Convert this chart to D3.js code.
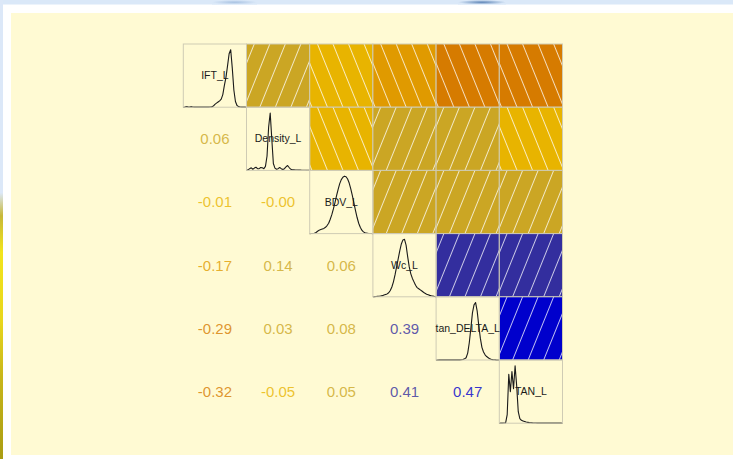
<!DOCTYPE html>
<html>
<head>
<meta charset="utf-8">
<script src="https://cdn.jsdelivr.net/npm/d3@7"></script>
<style>
  html, body { margin: 0; padding: 0; background: #fff; }
  svg { display: block; }
</style>
</head>
<body>
<div id="chart"></div>
<script>
const DEBUG = false;

// variable names, diagonal of the corrgram
const vars = ["IFT_L", "Density_L", "BDV_L", "Wc_L", "tan_DELTA_L", "TAN_L"];

// correlations, one array per row: corr of vars[i] with vars[i+1..]
const corrIFT = [0.06, -0.01, -0.17, -0.29, -0.32];
const corrDensity = [-0.004, 0.14, 0.03, -0.05];
const corrBDV = [0.06, 0.08, 0.05];
const corrWc = [0.39, 0.41];
const corrTanDelta = [0.47];
const corrRows = [corrIFT, corrDensity, corrBDV, corrWc, corrTanDelta];

// shade palette, 14 bins over [-1, 1] (corrgram panel.shade style)
const shadePalette = [
  "#9a3c00", "#a84800", "#b85600", "#c76600",
  "#d67b00", "#e09a00", "#e8b400", "#cba624",
  "#7f6a62", "#332e9e", "#0000cc", "#0000a8", "#000088", "#000068"
];

// kernel density curves (41 samples over each variable's range, peak = 1)
const densIFT = [0, 0.004, 0.012, 0.006, 0.004, 0.01, 0.004, 0.002, 0.002, 0.002,
  0.002, 0.002, 0.002, 0.002, 0.002, 0.002, 0.002, 0.003, 0.005, 0.02,
  0.05, 0.07, 0.09, 0.11, 0.14, 0.22, 0.38, 0.52, 0.72, 0.93,
  1.0, 0.68, 0.3, 0.1, 0.03, 0.01, 0.004, 0.002, 0.002, 0.001, 0];
const densDensity = [0, 0.01, 0.03, 0.045, 0.02, 0.04, 0.055, 0.03, 0.03, 0.05,
  0.045, 0.03, 0.07, 0.25, 0.75, 1.0, 0.55, 0.12, 0.04, 0.02,
  0.03, 0.05, 0.03, 0.015, 0.03, 0.06, 0.085, 0.05, 0.02, 0.01,
  0.01, 0.008, 0.006, 0.005, 0.004, 0.003, 0.002, 0.002, 0.001, 0.001, 0];
const densBDV = [0, 0.001, 0.002, 0.006, 0.02, 0.04, 0.06, 0.07, 0.08, 0.09,
  0.11, 0.14, 0.18, 0.25, 0.33, 0.43, 0.54, 0.66, 0.77, 0.87,
  0.94, 0.98, 1.0, 0.99, 0.95, 0.88, 0.78, 0.66, 0.53, 0.4,
  0.28, 0.18, 0.11, 0.06, 0.03, 0.015, 0.008, 0.004, 0.002, 0.001, 0];
const densWc = [0, 0.003, 0.005, 0.008, 0.01, 0.015, 0.02, 0.03, 0.04, 0.05,
  0.07, 0.11, 0.17, 0.26, 0.38, 0.52, 0.66, 0.8, 0.92, 0.99,
  1.0, 0.9, 0.7, 0.52, 0.4, 0.32, 0.26, 0.2, 0.16, 0.14,
  0.12, 0.1, 0.08, 0.06, 0.045, 0.035, 0.025, 0.018, 0.012, 0.006, 0];
const densTanDelta = [0, 0.001, 0.002, 0.002, 0.002, 0.002, 0.002, 0.002, 0.002, 0.002,
  0.002, 0.002, 0.002, 0.002, 0.002, 0.003, 0.005, 0.01, 0.02, 0.04,
  0.12, 0.3, 0.55, 0.82, 0.96, 1.0, 0.85, 0.6, 0.38, 0.22,
  0.14, 0.09, 0.06, 0.04, 0.02, 0.01, 0.006, 0.004, 0.002, 0.001, 0];
const densTAN = [0, 0.001, 0.002, 0.003, 0.005, 0.15, 0.85, 0.55, 0.9, 0.6,
  1.0, 0.65, 0.2, 0.08, 0.05, 0.04, 0.03, 0.02, 0.015, 0.01,
  0.008, 0.005, 0.004, 0.003, 0.002, 0.002, 0.001, 0.001, 0.001, 0.001,
  0.001, 0.001, 0.001, 0.001, 0.001, 0.001, 0.001, 0.001, 0.001, 0.001, 0];
const densities = [densIFT, densDensity, densBDV, densWc, densTanDelta, densTAN];

const width = 733, height = 459;

const svg = d3.select("#chart").append("svg")
  .attr("width", width)
  .attr("height", height)
  .style("font-family", "'Liberation Sans', Arial, sans-serif");

const defs = svg.append("defs");

// ---- backdrop (slide frame) ----
const leftGrad = defs.append("linearGradient")
  .attr("id", "leftStrip").attr("x1", 0).attr("x2", 0).attr("y1", 0).attr("y2", 1);
[["0%", "#dce8f8"], ["42%", "#dce8f8"], ["47%", "#c7b838"], ["55%", "#f2e41c"],
 ["70%", "#e8d61e"], ["82%", "#c8b61a"], ["100%", "#a99c12"]]
  .forEach(([o, c]) => leftGrad.append("stop").attr("offset", o).attr("stop-color", c));

const blob = defs.append("radialGradient").attr("id", "blob");
blob.append("stop").attr("offset", "0%").attr("stop-color", "#5f86b8");
blob.append("stop").attr("offset", "100%").attr("stop-color", "#dae8f8");
const blob2 = defs.append("radialGradient").attr("id", "blob2");
blob2.append("stop").attr("offset", "0%").attr("stop-color", "#a8c2e2");
blob2.append("stop").attr("offset", "100%").attr("stop-color", "#dae8f8");

svg.append("rect").attr("width", width).attr("height", height).attr("fill", "#fff");
svg.append("rect").attr("width", width).attr("height", 4.5).attr("fill", "#dae8f8");
svg.append("rect").attr("x", 212).attr("width", 45).attr("height", 4.5).attr("fill", "url(#blob2)");
svg.append("rect").attr("x", 458).attr("width", 48).attr("height", 4.5).attr("fill", "url(#blob)");
svg.append("rect").attr("width", 3).attr("height", height).attr("fill", "url(#leftStrip)");
svg.append("rect")
  .attr("x", 11).attr("y", 13)
  .attr("width", width - 11).attr("height", 455 - 13)
  .attr("fill", "#fffad3");

// ---- hatch patterns ----
const hatch = (id, angle) => {
  defs.append("pattern")
    .attr("id", id)
    .attr("patternUnits", "userSpaceOnUse")
    .attr("width", 14.4).attr("height", 14.4)
    .attr("patternTransform", `rotate(${angle})`)
    .append("line")
      .attr("x1", 7.2).attr("x2", 7.2)
      .attr("y1", -1).attr("y2", 15.4)
      .attr("stroke", "#fff")
      .attr("stroke-opacity", 0.75)
      .attr("stroke-width", 1);
};
hatch("hatchPos", 22);
hatch("hatchNeg", -22);

// ---- scales ----
const x = d3.scaleBand().domain(vars).range([183.3, 562.5]);
const y = d3.scaleBand().domain(vars).range([44, 423.2]);
const shade = d3.scaleQuantize().domain([-1, 1]).range(shadePalette);
const fmt = v => (v < 0 ? "-" : "") + Math.abs(v).toFixed(2);

const pairs = [];
corrRows.forEach((row, i) => {
  row.forEach((r, k) => pairs.push({ a: vars[i], b: vars[i + 1 + k], r: r }));
});
if (DEBUG) console.log("[corrgram] pairs", pairs);

const bw = x.bandwidth(), bh = y.bandwidth();

// upper panel: shaded cells
const upper = svg.append("g").selectAll("g")
  .data(pairs)
  .join("g")
    .attr("transform", d => `translate(${x(d.b)},${y(d.a)})`);

upper.append("rect")
  .attr("width", bw).attr("height", bh)
  .attr("fill", d => shade(d.r));
upper.append("rect")
  .attr("width", bw).attr("height", bh)
  .attr("fill", d => d.r > 0 ? "url(#hatchPos)" : "url(#hatchNeg)");
upper.append("rect")
  .attr("width", bw).attr("height", bh)
  .attr("fill", "none")
  .attr("stroke", "#cfcbb4")
  .attr("stroke-width", 1);

// lower panel: coefficients as text
svg.append("g").selectAll("text")
  .data(pairs)
  .join("text")
    .attr("x", d => x(d.a) + bw / 2)
    .attr("y", d => y(d.b) + bh / 2)
    .attr("dy", "0.36em")
    .attr("text-anchor", "middle")
    .attr("font-size", 15)
    .attr("fill", d => shade(d.r))
    .attr("fill-opacity", 0.8)
    .text(d => fmt(d.r));

// diagonal: density curves + names
const dx = d3.scaleLinear().domain([0, densIFT.length - 1]).range([0, bw]);
const dy = d3.scaleLinear().domain([0, 1.1]).range([bh, 0]);
const line = d3.line().x((d, i) => dx(i)).y(d => dy(d));

const diag = svg.append("g").selectAll("g")
  .data(vars)
  .join("g")
    .attr("transform", d => `translate(${x(d)},${y(d)})`);

diag.append("path")
  .attr("d", (d, i) => line(densities[i]))
  .attr("fill", "none")
  .attr("stroke", "#1a1a1a")
  .attr("stroke-width", 1.1)
  .attr("stroke-linejoin", "round");

diag.append("rect")
  .attr("width", bw).attr("height", bh)
  .attr("fill", "none")
  .attr("stroke", "#cfcbb4")
  .attr("stroke-width", 1);

diag.append("text")
  .attr("x", bw / 2)
  .attr("y", bh / 2)
  .attr("dy", "0.35em")
  .attr("text-anchor", "middle")
  .attr("font-size", 10.5)
  .attr("fill", "#1a1a1a")
  .text(d => d);
</script>
</body>
</html>
